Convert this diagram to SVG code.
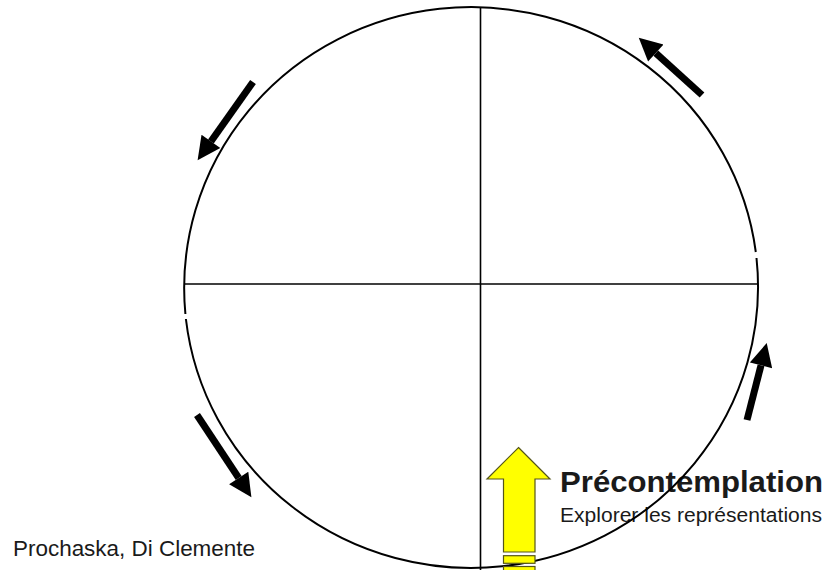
<svg xmlns="http://www.w3.org/2000/svg" width="830" height="570" viewBox="0 0 830 570">
<style>
.ring{fill:none;stroke:#000;stroke-width:2}
.axis{stroke:#000;stroke-width:1.6}
.flow{stroke:#000;stroke-width:7;fill:none;marker-end:url(#head)}
.yel{fill:#ffff00;stroke:#55551a;stroke-width:1.2}
.t{font-family:"Liberation Sans",Arial,sans-serif;fill:#1a1a1a}
</style>
<defs>
<marker id="head" viewBox="0 0 10 10" refX="0" refY="5" markerUnits="userSpaceOnUse" markerWidth="25" markerHeight="23" orient="auto">
<path d="M0,0 L10,5 L0,10 z" fill="#000"/>
</marker>
</defs>
<rect width="830" height="570" fill="#fff"/>
<g id="labels">
<text class="t" x="560" y="492" font-size="30" font-weight="bold" textLength="263" lengthAdjust="spacingAndGlyphs">Précontemplation</text>
<text class="t" x="560" y="521.5" font-size="20" textLength="262" lengthAdjust="spacingAndGlyphs">Explorer les représentations</text>
<text class="t" x="13" y="556" font-size="22" textLength="242" lengthAdjust="spacingAndGlyphs">Prochaska, Di Clemente</text>
</g>
<g id="cycle">
<path class="ring" d="M185.9,319 A287,281 0 0 0 756.5,258"/>
<path class="ring" d="M755.8,252 A287,281 0 0 0 185.4,314"/>
<line class="axis" x1="480.5" y1="7" x2="480.5" y2="570"/>
<line class="axis" x1="184" y1="284" x2="757" y2="284"/>
</g>
<g id="connectors">
<line class="flow" x1="253" y1="82" x2="210.9" y2="141.4"/>
<line class="flow" x1="702" y1="95" x2="655.8" y2="53.1"/>
<line class="flow" x1="747" y1="420" x2="761" y2="365.3"/>
<line class="flow" x1="197" y1="415" x2="238.7" y2="478"/>
</g>
<g id="yellow-arrow">
<polygon class="yel" points="518.5,447.5 550,479 535,479 535,552 503.5,552 503.5,479 487,479"/>
<rect class="yel" x="503.5" y="555.7" width="31.5" height="7.6"/>
<rect class="yel" x="503.5" y="566.5" width="31.5" height="10"/>
</g>
</svg>
